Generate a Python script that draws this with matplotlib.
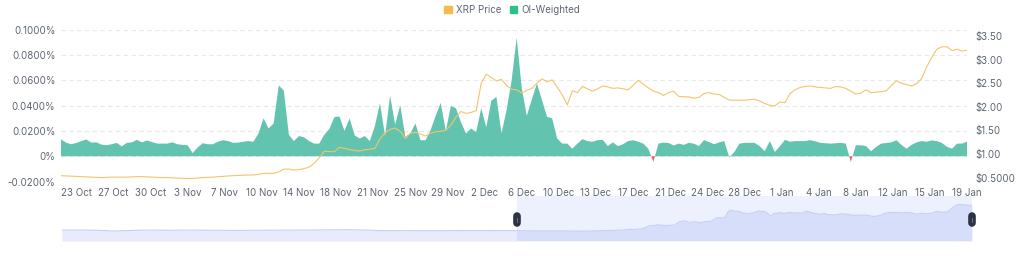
import matplotlib
matplotlib.use("Agg")
import matplotlib.pyplot as plt
import matplotlib.dates as mdates
import matplotlib.transforms as mtransforms
from matplotlib.patches import Patch
import numpy as np
import pandas as pd

plt.rcParams['font.family'] = ['Inter', 'DejaVu Sans']

# 12-hourly samples shown in the main window
start = pd.Timestamp('2024-10-21 20:00')

# OI-weighted funding rate, in %
funding = [
    .0133, .0108, .0095, .0105, .0120, .0133, .0108, .0110, .0092, .0087,
    .0095, .0106, .0078, .0106, .0110, .0130, .0110, .0125, .0112, .0100,
    .0100, .0100, .0110, .0095, .0090, .0087, .0025, .0070, .0103, .0095,
    .0095, .0115, .0127, .0120, .0106, .0108, .0115, .0120, .0115, .0180,
    .0300, .0220, .0260, .0560, .0520, .0170, .0120, .0160, .0150, .0120,
    .0100, .0100, .0170, .0215, .0310, .0315, .0200, .0300, .0165, .0140,
    .0160, .0120, .0240, .0420, .0160, .0480, .0250, .0405, .0155, .0180,
    .0260, .0127, .0127, .0206, .0320, .0423, .0200, .0397, .0380, .0270,
    .0180, .0220, .0190, .0380, .0230, .0440, .0470, .0180, .0365, .0600,
    .0940, .0540, .0320, .0450, .0577, .0444, .0312, .0300, .0140, .0100,
    .0100, .0060, .0100, .0135, .0120, .0115, .0127, .0130, .0080, .0110,
    .0080, .0095, .0120, .0127, .0115, .0100, .0060, -.0045, .0100, .0108,
    .0105, .0085, .0100, .0090, .0106, .0100, .0080, .0128, .0112, .0095,
    .0110, .0120, -.0010, .0034, .0100, .0106, .0106, .0106, .0080, .0040,
    .0120, .0034, .0080, .0130, .0115, .0120, .0120, .0120, .0127, .0118,
    .0106, .0103, .0100, .0103, .0106, .0100, -.0045, .0087, .0087, .0080,
    .0040, .0074, .0100, .0105, .0110, .0127, .0090, .0060, .0090, .0110,
    .0120, .0115, .0125, .0120, .0105, .0074, .0060, .0100, .0100, .0117,
]

# XRP price, USD
price = [
    .540, .535, .530, .525, .520, .515, .510, .505, .500, .505,
    .510, .510, .510, .510, .515, .520, .520, .515, .510, .505,
    .500, .500, .495, .490, .485, .480, .480, .490, .500, .505,
    .510, .520, .525, .535, .540, .545, .550, .555, .555, .570,
    .590, .590, .590, .620, .680, .680, .660, .670, .690, .720,
    .800, .920, 1.06, 1.05, 1.05, 1.14, 1.12, 1.09, 1.08, 1.06,
    1.09, 1.10, 1.12, 1.32, 1.45, 1.52, 1.55, 1.48, 1.33, 1.44,
    1.46, 1.42, 1.38, 1.44, 1.47, 1.48, 1.50, 1.61, 1.78, 1.90,
    1.86, 1.88, 1.92, 2.50, 2.69, 2.62, 2.55, 2.58, 2.45, 2.37,
    2.36, 2.29, 2.35, 2.39, 2.50, 2.59, 2.53, 2.57, 2.42, 2.25,
    2.04, 2.34, 2.30, 2.43, 2.38, 2.33, 2.38, 2.44, 2.42, 2.39,
    2.40, 2.38, 2.36, 2.45, 2.56, 2.48, 2.40, 2.33, 2.30, 2.24,
    2.30, 2.33, 2.22, 2.21, 2.21, 2.18, 2.20, 2.28, 2.30, 2.27,
    2.26, 2.20, 2.14, 2.14, 2.14, 2.14, 2.15, 2.16, 2.12, 2.07,
    2.03, 2.02, 2.10, 2.09, 2.28, 2.36, 2.41, 2.43, 2.44, 2.42,
    2.41, 2.40, 2.39, 2.43, 2.42, 2.39, 2.33, 2.27, 2.29, 2.36,
    2.30, 2.31, 2.32, 2.34, 2.45, 2.55, 2.50, 2.47, 2.44, 2.49,
    2.60, 2.85, 3.05, 3.22, 3.27, 3.27, 3.19, 3.22, 3.18, 3.20,
]

# earlier price history, only visible in the zoom slider (2-day steps)
hist_start = pd.Timestamp('2024-07-24 08:00')
hist_price = [
    .60, .60, .61, .58, .56, .50, .53, .57, .60, .59,
    .57, .58, .60, .59, .58, .57, .57, .56, .57, .58,
    .58, .59, .59, .59, .60, .61, .61, .62, .64, .62,
    .60, .55, .53, .53, .53, .54, .54, .53, .54, .55,
    .54, .54, .55, .54, .54,
]

price_ticks = [0.5, 1.0, 1.5, 2.0, 2.5, 3.0, 3.5]
price_tick_labels = ['$0.5000', '$1.00', '$1.50', '$2.00', '$2.50', '$3.00', '$3.50']
funding_ticks = [-0.02, 0, 0.02, 0.04, 0.06, 0.08, 0.10]

dates = pd.date_range(start, periods=len(funding), freq='12h')
hist_dates = pd.date_range(hist_start, periods=len(hist_price), freq='2D')
f = np.array(funding)

GREEN = '#62c3ae'
RED = '#ef5f6b'
ORANGE = '#f5c46c'
TXT = '#5e6673'

fig = plt.figure(figsize=(10.24, 2.64), dpi=100)
ax = fig.add_axes([0.0596, 0.3125, 0.885, 0.574])

ax.fill_between(dates, 0, f, where=f >= 0, interpolate=True, color=GREEN, lw=0)
ax.fill_between(dates, 0, f, where=f < 0, interpolate=True, color=RED, lw=0)
ax.set_ylim(-0.02, 0.10)
ax.set_yticks(funding_ticks)
ax.set_yticklabels(['-0.0200%', '0%', '0.0200%', '0.0400%', '0.0600%', '0.0800%', '0.1000%'])
ax.set_xlim(dates[0], dates[-1])
ax.grid(axis='y', color='#e6e8ea', lw=0.8, ls=(0, (4, 3)))
ax.set_axisbelow(True)

ticks = pd.date_range('2024-10-23 08:00', periods=25, freq='88h')
ax.set_xticks(ticks)
ax.xaxis.set_major_formatter(mdates.DateFormatter('%-d %b'))

for s in ax.spines.values():
    s.set_visible(False)
ax.tick_params(length=0, labelsize=7, colors=TXT, pad=4)
ax.tick_params(axis='x', pad=5)

ax2 = ax.twinx()
ax2.plot(dates, price, color=ORANGE, lw=0.8)
ax2.set_ylim(0.417, 3.627)
ax2.set_yticks(price_ticks)
ax2.set_yticklabels(price_tick_labels)
ax2.set_xlim(dates[0], dates[-1])
for s in ax2.spines.values():
    s.set_visible(False)
ax2.tick_params(length=0, labelsize=7, colors=TXT, pad=6)

handles = [Patch(color='#f3ba4f'), Patch(color='#2dc08a')]
fig.legend(handles, ['XRP Price', 'OI-Weighted'], loc='upper center',
           bbox_to_anchor=(0.5, 1.015), ncol=2, frameon=False, fontsize=7,
           handlelength=0.8, handleheight=0.8, handletextpad=0.4,
           columnspacing=0.9, labelcolor=TXT)

# zoom slider underneath
sl = fig.add_axes([0.0603, 0.0871, 0.889, 0.1705])
all_dates = hist_dates.append(dates)
all_price = hist_price + price
sl.fill_between(all_dates, -0.54, all_price, color='#e7ebfb', lw=0)
sl.plot(all_dates, all_price, color='#c6cff4', lw=0.8)
sl.set_xlim(all_dates[0], all_dates[-1])
sl.set_ylim(-0.54, 4.15)
sl.axvspan(dates[0], dates[-1], color='#5070f0', alpha=0.1, lw=0)
sl.set_xticks([])
sl.set_yticks([])
for s in sl.spines.values():
    s.set_visible(False)

tr = mtransforms.blended_transform_factory(sl.transData, sl.transAxes)
for d in [dates[0], dates[-1]]:
    sl.plot([d, d], [0.40, 0.55], transform=tr, color='#2d3345', lw=5.5,
            solid_capstyle='round', clip_on=False)
    sl.plot([d, d], [0.43, 0.52], transform=tr, color='#8a90a0', lw=0.5,
            clip_on=False)

fig.savefig('out.png', dpi=100)
